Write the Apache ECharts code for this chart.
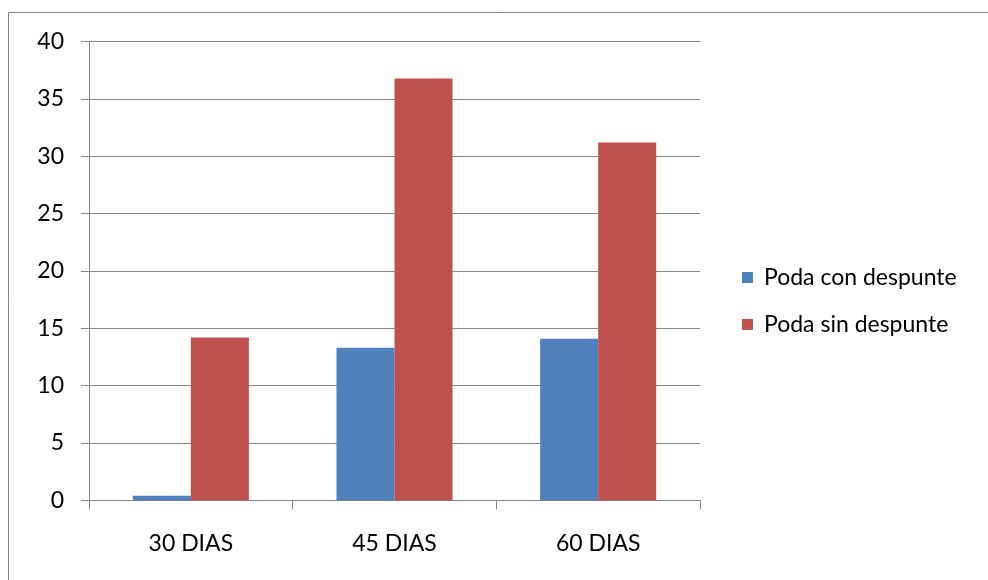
<!DOCTYPE html>
<html>
<head>
<meta charset="utf-8">
<script src="https://cdn.jsdelivr.net/npm/echarts@6/dist/echarts.min.js"></script>
<style>
html,body{margin:0;padding:0;background:#fff;}
#chart{width:988px;height:580px;}
</style>
</head>
<body>
<div id="chart"></div>
<script>
var categories = ['30 DIAS', '45 DIAS', '60 DIAS'];
var seriesNames = ['Poda con despunte', 'Poda sin despunte'];
var conDespunte = [0.4, 13.3, 14.1];
var sinDespunte = [14.2, 36.8, 31.2];
var yTicks = [0, 5, 10, 15, 20, 25, 30, 35, 40];

var FONT = 'Lato, "Liberation Sans", sans-serif';
var GRAY = '#868686';

var chart = echarts.init(document.getElementById('chart'));
chart.setOption({
  animation: false,
  backgroundColor: '#fff',
  textStyle: { fontFamily: FONT },
  graphic: [{
    type: 'rect',
    shape: { x: 8.5, y: 12.5, width: 1000, height: 600 },
    style: { fill: 'none', stroke: GRAY, lineWidth: 1 },
    silent: true
  }],
  grid: { left: 89, right: 288, top: 41.7, bottom: 79.7, containLabel: false },
  legend: {
    orient: 'vertical',
    left: 737,
    top: 260,
    itemWidth: 11,
    itemHeight: 11,
    itemGap: 22,
    icon: 'rect',
    data: seriesNames,
    textStyle: { fontFamily: FONT, fontSize: 23, color: '#000', padding: [0, 0, 0, 6], lineHeight: 25 }
  },
  xAxis: {
    type: 'category',
    data: categories,
    axisLine: { lineStyle: { color: GRAY, width: 1 } },
    axisTick: { show: true, length: 9, lineStyle: { color: GRAY } },
    axisLabel: { color: '#000', fontSize: 23, fontFamily: FONT, margin: 32 }
  },
  yAxis: {
    type: 'value',
    min: yTicks[0],
    max: yTicks[yTicks.length - 1],
    interval: 5,
    axisLine: { show: true, lineStyle: { color: GRAY, width: 1 } },
    axisTick: { show: true, length: 8, lineStyle: { color: GRAY } },
    axisLabel: { color: '#000', fontSize: 23, fontFamily: FONT, margin: 25 },
    splitLine: { show: true, lineStyle: { color: GRAY, width: 1 } }
  },
  series: [
    {
      name: seriesNames[0],
      type: 'bar',
      data: conDespunte,
      itemStyle: { color: '#4F81BD' },
      barGap: '0%',
      barCategoryGap: '43%'
    },
    {
      name: seriesNames[1],
      type: 'bar',
      data: sinDespunte,
      itemStyle: { color: '#C0504D' },
      barGap: '0%',
      barCategoryGap: '43%'
    }
  ]
});
</script>
</body>
</html>
